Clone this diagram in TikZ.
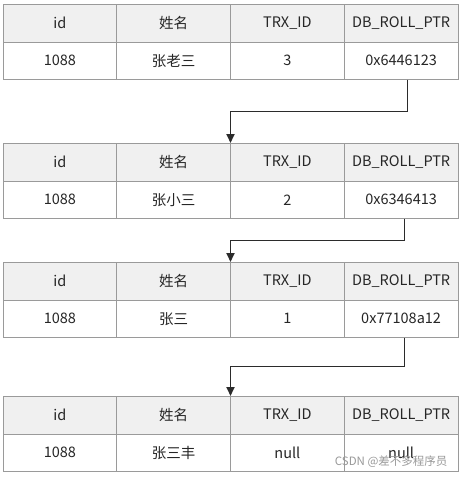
\documentclass[tikz,border=0pt]{standalone}
\usepackage{fontspec}
\setmainfont{Noto Sans CJK SC}
\usetikzlibrary{arrows.meta}
\definecolor{gridc}{HTML}{9A9A9A}
\definecolor{headc}{HTML}{F0F0F0}
\definecolor{txtc}{HTML}{262626}
\definecolor{linec}{HTML}{2B2B2B}
\tikzset{
  cell/.style={draw=gridc, line width=0.9pt, minimum width=113.75pt, inner sep=0pt, outer sep=0pt, anchor=north west, text=txtc, font=\fontsize{14.5}{16}\selectfont},
  headcell/.style={cell, fill=headc, minimum height=38pt},
  datacell/.style={cell, fill=white, minimum height=37.5pt},
  arr/.style={draw=linec, line width=1.7pt, -{Triangle[length=9pt,width=8pt]}},
}
\newcommand{\mytable}[6]{%
  \node[headcell] (#1h1) at (3,#2) {id};
  \node[headcell] (#1h2) at (116.75,#2) {姓名};
  \node[headcell] (#1h3) at (230.5,#2) {TRX\_ID};
  \node[headcell] (#1h4) at (344.25,#2) {DB\_ROLL\_PTR};
  \node[datacell] (#1d1) at (3,#2+38) {1088};
  \node[datacell] (#1d2) at (116.75,#2+38) {#3};
  \node[datacell] (#1d3) at (230.5,#2+38) {#4};
  \node[datacell] (#1d4) at (344.25,#2+38) {#5};
}
\begin{document}
\begin{tikzpicture}[x=1pt,y=-1pt]
\useasboundingbox (0,0) rectangle (465,477);
\mytable{t1}{4}{张老三}{3}{0x6446123}{}
\mytable{t2}{143}{张小三}{2}{0x6346413}{}
\mytable{t3}{262}{张三}{1}{0x77108a12}{}
\mytable{t4}{396}{张三丰}{null}{null}{}
\draw[arr] ([xshift=6.5pt]t1d4.south) -- ++(0,32) -| (t2h3.north west);
\draw[arr] ([xshift=3.5pt]t2d4.south) -- ++(0,22) -| (t3h3.north west);
\draw[arr] ([xshift=3.5pt]t3d4.south) -- ++(0,29) -| (t4h3.north west);
\node[text=black!40, font=\fontsize{11.5}{13}\selectfont, anchor=east] (wm) at (451,462) {CSDN @差不多程序员};
\end{tikzpicture}
\end{document}
